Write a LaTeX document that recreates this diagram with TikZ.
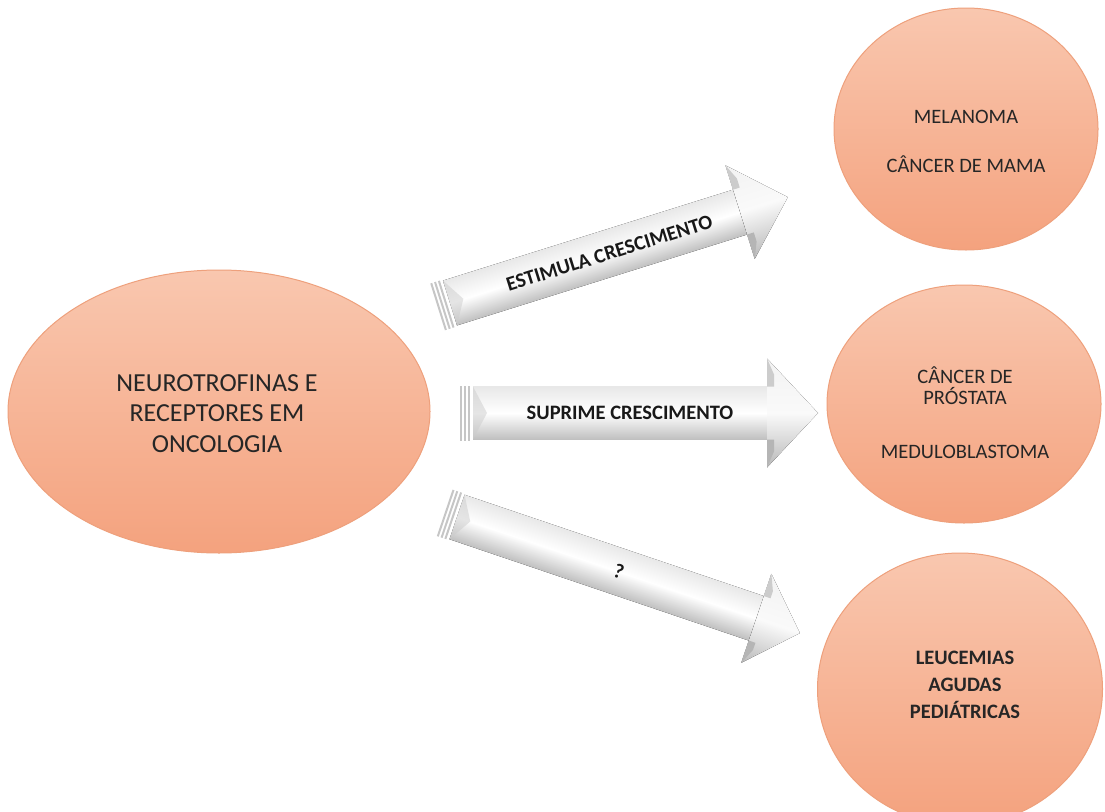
\documentclass[tikz,border=0pt]{standalone}
\usepackage{fontspec}
\setmainfont{Carlito}
\usetikzlibrary{shapes.geometric}
\definecolor{salTop}{RGB}{249,199,175}
\definecolor{salBot}{RGB}{244,162,126}
\definecolor{salRim}{RGB}{238,160,124}
\tikzset{
  blob/.style={ellipse, inner sep=0pt, top color=salTop, bottom color=salBot, draw=salRim, line width=1pt},
  lbl/.style={align=center, text=black!85, font=\fontsize{20.5}{24.5}\selectfont},
  arrlbl/.style={font=\bfseries\fontsize{20.5}{24}\selectfont, text=black!90, inner sep=1pt},
  bodyshade/.style={top color=gray!18, bottom color=gray!50, middle color=white},
  headshade/.style={top color=gray!10, bottom color=gray!55, middle color=gray!4},
  stripe/.style={fill=gray!45},
}
\newcommand\fatarrow[4]{% L w h hl
  \foreach \k in {0,1,2}{\fill[stripe] ({-13+4*\k},{-#2-1}) rectangle ({-11+4*\k},{#2+1});}
  \fill[bodyshade] (0,-#2) rectangle ({#1-#4},#2);
  \fill[gray!40,opacity=.5] (0,#2) -- (14,0) -- (0,-#2) -- cycle;
  \fill[headshade] ({#1-#4},#3) -- (#1,0) -- ({#1-#4},-#3) -- cycle;
  \fill[gray!40] ({#1-#4},#3) -- ({#1-#4+7},{#3-16}) -- ({#1-#4+7},#2) -- ({#1-#4},#2) -- cycle;
  \fill[gray!58] ({#1-#4},-#3) -- ({#1-#4+7},{-#3+16}) -- ({#1-#4+7},-#2) -- ({#1-#4},-#2) -- cycle;
}
\begin{document}
\begin{tikzpicture}[x=1pt,y=1pt]
\useasboundingbox (0,0) rectangle (1105,-811);
\fill[white] (0,0) rectangle (1105,-811);

% source ellipse and target circles
\node[blob, minimum width=422pt, minimum height=283pt] (src) at (219,-411.5) {};
\node[blob, minimum width=264pt, minimum height=242pt] (c1) at (966,-129) {};
\node[blob, minimum width=274pt, minimum height=238pt] (c2) at (964,-404) {};
\node[blob, minimum width=285pt, minimum height=272pt] (c3) at (960,-689) {};

% texts
\node[lbl, font=\fontsize{26}{30.5}\selectfont] (tsrc) at (217,-413.5) {NEUROTROFINAS E\\RECEPTORES EM\\ONCOLOGIA};
\node[lbl] (t1) at (966,-141.5) {MELANOMA\\[24.5pt]CÂNCER DE MAMA};
\node[lbl, font=\fontsize{20.5}{21}\selectfont] (t2) at (965,-413) {CÂNCER DE\\PRÓSTATA\\[33pt]MEDULOBLASTOMA};
\node[lbl, font=\bfseries\fontsize{20.5}{27}\selectfont] (t3) at (965,-684.5) {LEUCEMIAS\\AGUDAS\\PEDIÁTRICAS};

% arrows
\coordinate (a1) at (450,-303);
\coordinate (a2) at (473,-413);
\coordinate (a3) at (457,-517);
\begin{scope}[transform canvas={shift={(a1)},rotate=17.4}]
  \fatarrow{354}{23.5}{49}{50}
\end{scope}
\begin{scope}[transform canvas={shift={(a2)}}]
  \fatarrow{345}{26.5}{54.5}{51}
\end{scope}
\begin{scope}[transform canvas={shift={(a3)},rotate=-18.7}]
  \fatarrow{362}{23.5}{47}{46}
\end{scope}
\node[arrlbl, rotate=17.4] (l1) at ([shift={(17.4:167)}]a1) {ESTIMULA CRESCIMENTO};
\node[arrlbl] (l2) at ([shift={(157,0)}]a2) {SUPRIME CRESCIMENTO};
\node[arrlbl, rotate=-18.7] (l3) at ([shift={(-18.7:171)}]a3) {?};
\end{tikzpicture}
\end{document}
